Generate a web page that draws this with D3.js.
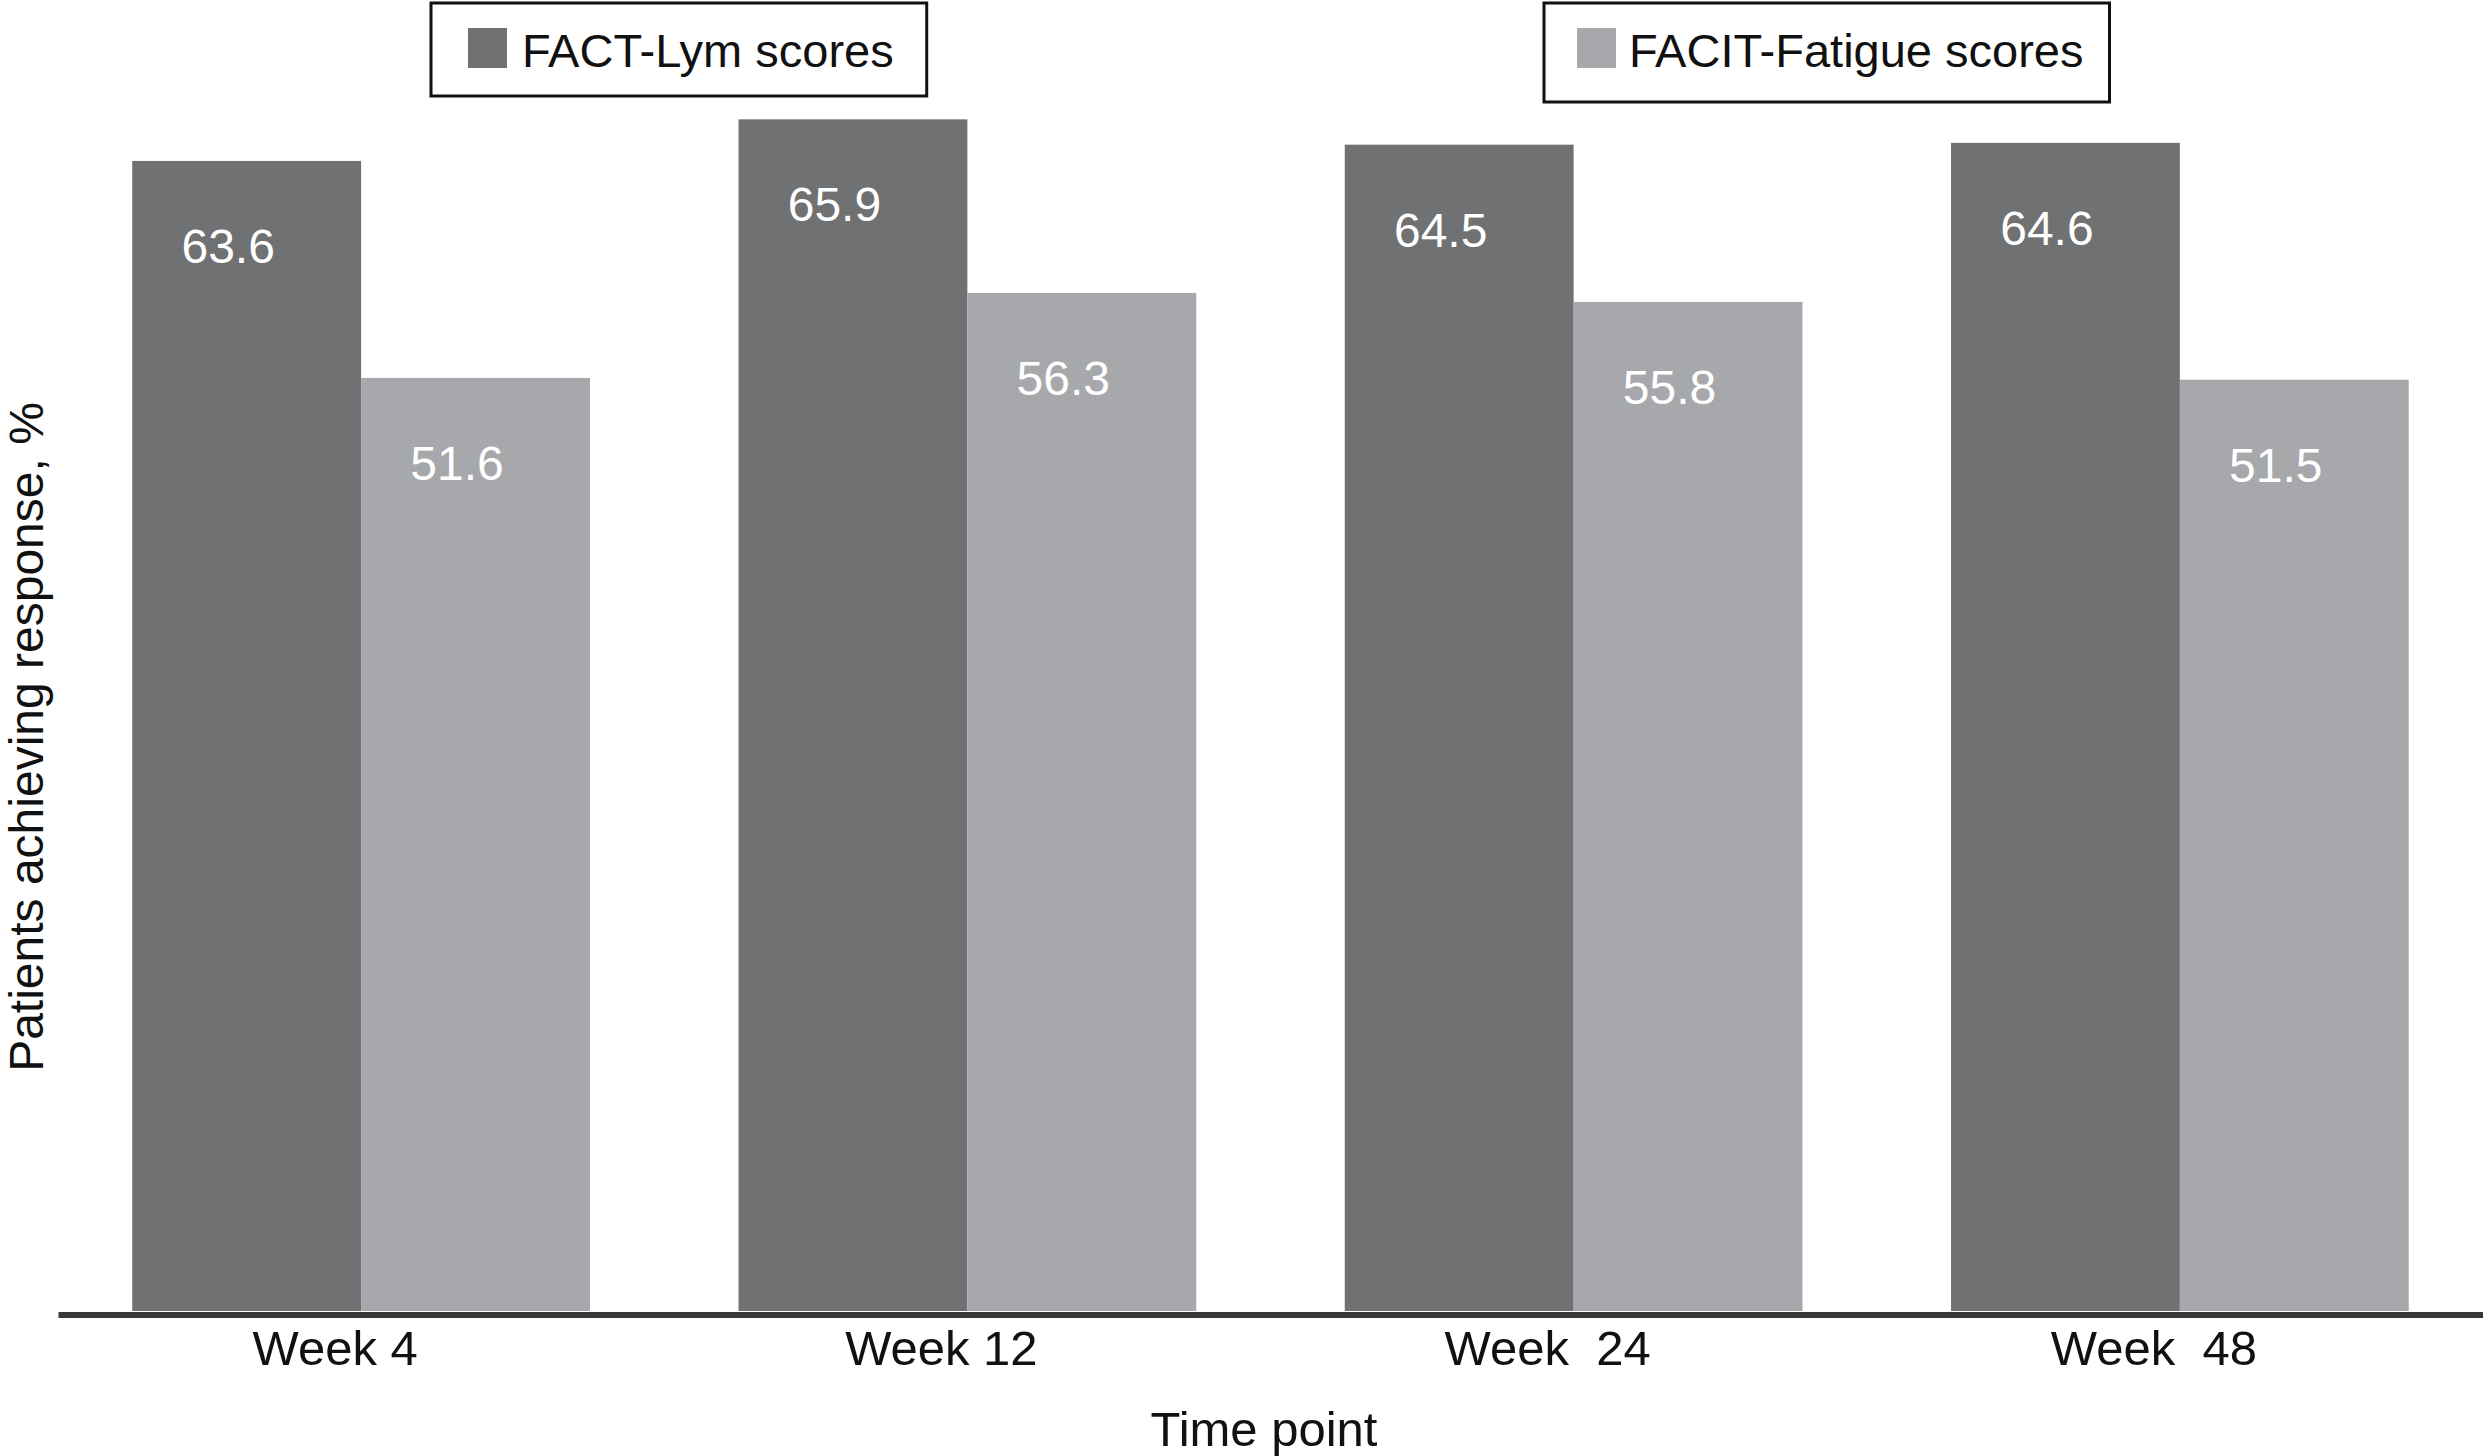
<!DOCTYPE html>
<html>
<head>
<meta charset="utf-8">
<script src="https://cdn.jsdelivr.net/npm/d3@7"></script>
<style>
  body { margin: 0; background: #fff; }
  svg { display: block; font-family: "Liberation Sans", Arial, Helvetica, sans-serif; }
</style>
</head>
<body>
<div id="viz_response"></div>
<script>
// values
const timePoints = ["Week 4", "Week 12", "Week  24", "Week  48"];
const seriesNames = ["FACT-Lym scores", "FACIT-Fatigue scores"];
const factLym = [63.6, 65.9, 64.5, 64.6];
const facitFatigue = [51.6, 56.3, 55.8, 51.5];
const seriesColors = ["#707173", "#a7a8ab"];

const width = 2483, height = 1456;
const baseY = 1311;

function buildChart(objectName)
{
    d3.select(objectName).selectAll("svg").remove();
    var svg = d3.select(objectName).append("svg")
        .attr("width", width)
        .attr("height", height)
        .attr("viewBox", [0, 0, width, height]);

    var rows = timePoints.map(function(t, i) {
        return {time: t, values: [factLym[i], facitFatigue[i]]};
    });

    var x0 = d3.scaleBand()
        .domain(timePoints)
        .range([58, width])
        .paddingInner(0.245)
        .paddingOuter(0.1225);

    var x1 = d3.scaleBand()
        .domain(d3.range(seriesNames.length))
        .range([0, x0.bandwidth()]);

    var y = d3.scaleLinear()
        .domain([0, 72.5])
        .range([baseY, 0]);

    var groups = svg.append("g")
        .selectAll("g")
        .data(rows)
        .join("g")
        .attr("transform", d => `translate(${x0(d.time)},0)`);

    groups.selectAll("rect")
        .data(d => d.values)
        .join("rect")
        .attr("x", (d, i) => x1(i))
        .attr("y", d => y(d))
        .attr("width", x1.bandwidth())
        .attr("height", d => y(0) - y(d))
        .attr("fill", (d, i) => seriesColors[i]);

    groups.selectAll("text")
        .data(d => d.values)
        .join("text")
        .attr("x", (d, i) => x1(i) + x1.bandwidth() * 0.215)
        .attr("y", d => y(d) + 102)
        .attr("fill", "#fff")
        .attr("font-size", 48)
        .text(d => d.toFixed(1));

    // x axis: thick baseline + week labels
    var xAxis = svg.append("g")
        .attr("transform", `translate(0,${baseY + 3.5})`)
        .call(d3.axisBottom(x0).tickSize(0).tickSizeOuter(0));

    xAxis.select(".domain")
        .attr("stroke", "#383838")
        .attr("stroke-width", 6);

    xAxis.selectAll(".tick text")
        .attr("font-family", "Liberation Sans, Arial, sans-serif")
        .attr("font-size", 49)
        .attr("fill", "#111")
        .attr("dx", -26)
        .attr("dy", 0)
        .attr("y", 50)
        .style("white-space", "pre");

    svg.append("text")
        .attr("x", 1264)
        .attr("y", 1446)
        .attr("text-anchor", "middle")
        .attr("font-size", 49)
        .attr("fill", "#111")
        .text("Time point");

    svg.append("text")
        .attr("transform", "translate(43,737) rotate(-90)")
        .attr("text-anchor", "middle")
        .attr("font-size", 48)
        .attr("fill", "#111")
        .text("Patients achieving response, %");

    // legend boxes, one per series
    var legendX = [431, 1544];
    var legendH = [93, 99];
    var swatchX = [37, 33];
    var labelX = [91, 85];
    var padRight = [33, 26];
    seriesNames.forEach(function(name, i) {
        var g = svg.append("g").attr("transform", `translate(${legendX[i]},3)`);
        var box = g.append("rect")
            .attr("height", legendH[i])
            .attr("fill", "#fff")
            .attr("stroke", "#111")
            .attr("stroke-width", 3);
        g.append("rect")
            .attr("x", swatchX[i])
            .attr("y", 25)
            .attr("width", 39)
            .attr("height", 40)
            .attr("fill", seriesColors[i]);
        var label = g.append("text")
            .attr("x", labelX[i])
            .attr("y", 64)
            .attr("font-size", 47)
            .attr("fill", "#111")
            .text(name);
        box.attr("width", labelX[i] + label.node().getComputedTextLength() + padRight[i]);
    });

    return true;
}

var completed = buildChart("#viz_response");
</script>
</body>
</html>
